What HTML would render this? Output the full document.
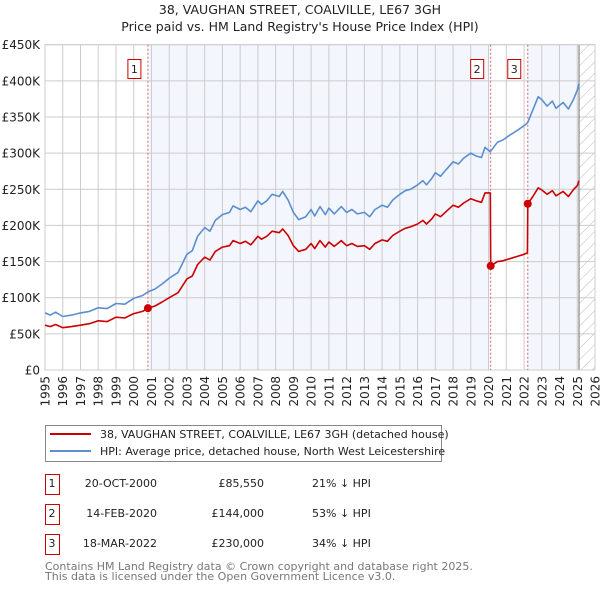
<!DOCTYPE html>
<html><head><meta charset="utf-8">
<style>
body{margin:0;background:#fff;font-family:"Liberation Sans","DejaVu Sans",sans-serif;}
#wrap{position:relative;width:600px;height:590px;overflow:hidden;}
svg text{font-family:"DejaVu Sans","Liberation Sans",sans-serif;}
</style></head>
<body>
<div id="wrap">
<svg id="chart" width="600" height="590" xmlns="http://www.w3.org/2000/svg">
<text x="300" y="14" text-anchor="middle" font-size="12.5" fill="#222">38, VAUGHAN STREET, COALVILLE, LE67 3GH</text>
<text x="300" y="31" text-anchor="middle" font-size="12.5" fill="#222">Price paid vs. HM Land Registry's House Price Index (HPI)</text>
<g id="plot"></g>
<g>
<rect x="45.5" y="425.5" width="396" height="36" fill="#fff" stroke="#888"/>
<line x1="50" y1="434" x2="91" y2="434" stroke="#cc0000" stroke-width="2"/>
<text x="100" y="438" font-size="11" fill="#222">38, VAUGHAN STREET, COALVILLE, LE67 3GH (detached house)</text>
<line x1="50" y1="451" x2="91" y2="451" stroke="#5b8fd0" stroke-width="2"/>
<text x="100" y="455" font-size="11" fill="#222">HPI: Average price, detached house, North West Leicestershire</text>
</g>
<g id="table" font-size="11" fill="#222"></g>
<text x="45" y="570" font-size="11" fill="#777">Contains HM Land Registry data © Crown copyright and database right 2025.</text>
<text x="45" y="580" font-size="11" fill="#777">This data is licensed under the Open Government Licence v3.0.</text>
</svg>
</div>
<script>
const yTicks=[0,50,100,150,200,250,300,350,400,450];
const yTickLabels=["£0","£50K","£100K","£150K","£200K","£250K","£300K","£350K","£400K","£450K"];
const xYears=[1995,1996,1997,1998,1999,2000,2001,2002,2003,2004,2005,2006,2007,2008,2009,2010,2011,2012,2013,2014,2015,2016,2017,2018,2019,2020,2021,2022,2023,2024,2025,2026];
const hpiDates=[1995.0,1995.3,1995.6,1996.0,1996.5,1997.0,1997.5,1998.0,1998.5,1999.0,1999.5,2000.0,2000.5,2000.8,2001.2,2001.6,2002.0,2002.5,2003.0,2003.3,2003.6,2004.0,2004.3,2004.6,2005.0,2005.4,2005.6,2006.0,2006.3,2006.6,2007.0,2007.2,2007.5,2007.8,2008.2,2008.4,2008.7,2009.0,2009.3,2009.7,2010.0,2010.2,2010.5,2010.8,2011.0,2011.3,2011.7,2012.0,2012.3,2012.6,2013.0,2013.3,2013.6,2014.0,2014.3,2014.6,2015.0,2015.3,2015.6,2016.0,2016.3,2016.5,2016.8,2017.0,2017.3,2017.6,2018.0,2018.3,2018.6,2019.0,2019.3,2019.6,2019.8,2020.1,2020.5,2020.8,2021.2,2021.6,2022.0,2022.2,2022.5,2022.8,2023.0,2023.3,2023.6,2023.8,2024.2,2024.5,2024.8,2025.0,2025.1];
const hpiValues=[79,76,80,74,76,79,81,86,85,92,91,99,103,108,112,119,127,135,160,165,185,197,192,207,215,218,227,222,225,219,234,229,234,243,240,247,235,218,208,212,222,213,226,215,224,216,226,218,222,216,218,212,222,228,225,235,243,248,250,256,262,256,265,273,268,277,288,285,293,300,296,294,308,302,315,318,325,331,338,342,360,378,374,365,372,362,370,361,375,387,396];
const priceDates=[1995.0,1995.3,1995.6,1996.0,1996.5,1997.0,1997.5,1998.0,1998.5,1999.0,1999.5,2000.0,2000.5,2000.8,2001.2,2001.6,2002.0,2002.5,2003.0,2003.3,2003.6,2004.0,2004.3,2004.6,2005.0,2005.4,2005.6,2006.0,2006.3,2006.6,2007.0,2007.2,2007.5,2007.8,2008.2,2008.4,2008.7,2009.0,2009.3,2009.7,2010.0,2010.2,2010.5,2010.8,2011.0,2011.3,2011.7,2012.0,2012.3,2012.6,2013.0,2013.3,2013.6,2014.0,2014.3,2014.6,2015.0,2015.3,2015.6,2016.0,2016.3,2016.5,2016.8,2017.0,2017.3,2017.6,2018.0,2018.3,2018.6,2019.0,2019.3,2019.6,2019.8,2020.1,2020.12,2020.5,2020.8,2021.2,2021.6,2022.0,2022.19,2022.21,2022.5,2022.8,2023.0,2023.3,2023.6,2023.8,2024.2,2024.5,2024.8,2025.0,2025.1];
const priceValues=[62,60,63,58.5,60,62,64,68,67,73,72,78,81,85.5,88.5,94,100,107,126,130,146,156,152,164,170,172,179,175,178,173,185,181,185,192,190,195,186,172,164,167,175,168,179,170,177,171,179,172,175,171,172,167,175,180,178,186,192,196,198,202,207,202,209,216,212,219,228,225,231,237,234,232,245,245,144,150,151,154,157,160,162,230,240,252,249,243,248,241,247,240,250,255,262];
const saleLabels=["1","2","3"];
const saleDates=[2000.8,2020.12,2022.21];
const salePrices=[85.55,144,230];
const saleDateText=["20-OCT-2000","14-FEB-2020","18-MAR-2022"];
const salePriceText=["£85,550","£144,000","£230,000"];
const saleHpiText=["21% ↓ HPI","53% ↓ HPI","34% ↓ HPI"];

const NS="http://www.w3.org/2000/svg";
const L=45,R=595,T=44.7,B=370;
const xS=y=>L+(y-1995)*(R-L)/31;
const yS=v=>B-v*(B-T)/450;
const plot=document.getElementById('plot');
function mk(tag,attrs,parent){const e=document.createElementNS(NS,tag);for(const k in attrs)e.setAttribute(k,attrs[k]);(parent||plot).appendChild(e);return e;}

const bg=mk('rect',{x:L,y:T,width:R-L,height:B-T,fill:'#fff'});


const sh1=mk('rect',{x:xS(saleDates[0]),y:T,width:xS(saleDates[1])-xS(saleDates[0]),height:B-T,fill:'#f3f6fd'});


const sh2=mk('rect',{x:xS(saleDates[2]),y:T,width:xS(2025.1)-xS(saleDates[2]),height:B-T,fill:'#f3f6fd'});


const defs=mk('defs',{});
const pat=mk('pattern',{id:'hatch',width:8,height:8,patternUnits:'userSpaceOnUse',patternTransform:'rotate(45)'},defs);
mk('line',{x1:0,y1:0,x2:0,y2:8,stroke:'#bbb','stroke-width':1},pat);
const hat=mk('rect',{x:xS(2025.1),y:T,width:R-xS(2025.1),height:B-T,fill:'url(#hatch)'});



yTicks.forEach((v,i)=>{
 const g=mk('line',{x1:L,x2:R,y1:yS(v),y2:yS(v),stroke:'#ccc','stroke-width':1});
 
 
 const t=mk('text',{x:40,y:yS(v)+4.5,'text-anchor':'end','font-size':12,fill:'#222'});
 t.textContent=yTickLabels[i];
 
 
});
xYears.forEach(yr=>{
 const g=mk('line',{x1:xS(yr),x2:xS(yr),y1:T,y2:B,stroke:'#ccc','stroke-width':1});
 
 
 const t=mk('text',{x:0,y:0,'text-anchor':'end','font-size':12,fill:'#222',transform:`translate(${xS(yr)+4.5},376) rotate(-90)`});
 t.textContent=String(yr);
 
 
});
const nowLine=mk('line',{x1:xS(2025.1),x2:xS(2025.1),y1:T,y2:B,stroke:'#888','stroke-width':1.2});


const frame=mk('rect',{x:L,y:T,width:R-L,height:B-T,fill:'none',stroke:'#ccc'});



saleDates.forEach((d,i)=>{
 const l=mk('line',{x1:xS(d),x2:xS(d),y1:T,y2:B,stroke:'#e06666','stroke-width':1,'stroke-dasharray':'2,2'});
 
 
 const bx=mk('rect',{x:xS(d)-20,y:59.5,width:13,height:19,fill:'#fff',stroke:'#cc0000'});
 
 
 const t=mk('text',{x:xS(d)-13.5,y:73,'text-anchor':'middle','font-size':11,fill:'#222'});
 t.textContent=saleLabels[i];
 
 
});

function pathOf(ds,vs){return ds.map((d,i)=>(i?'L':'M')+xS(d).toFixed(1)+','+yS(vs[i]).toFixed(1)).join('');}
const hp=mk('path',{d:pathOf(hpiDates,hpiValues),fill:'none',stroke:'#5b8fd0','stroke-width':1.6,'stroke-linejoin':'round'});


const pp=mk('path',{d:pathOf(priceDates,priceValues),fill:'none',stroke:'#cc0000','stroke-width':1.6,'stroke-linejoin':'round'});


saleDates.forEach((d,i)=>{
 const c=mk('circle',{cx:xS(d),cy:yS(salePrices[i]),r:4,fill:'#cc0000'});
 
 
});

const tb=document.getElementById('table');
saleLabels.forEach((s,i)=>{
 const y=485+i*30;
 const r=mk('rect',{x:45.5,y:y-10.5,width:14,height:20,fill:'#fff',stroke:'#cc0000'},tb);
 
 
 const cells=[[52,s,'middle'],[157,saleDateText[i],'end'],[264,salePriceText[i],'end'],[312,saleHpiText[i],'start']];
 cells.forEach((c,j)=>{
  const t=mk('text',{x:c[0],y:y+2,'text-anchor':c[2],'font-size':11,fill:'#222'},tb);
  t.textContent=c[1];
  
  
 });
});
</script>
</body></html>
